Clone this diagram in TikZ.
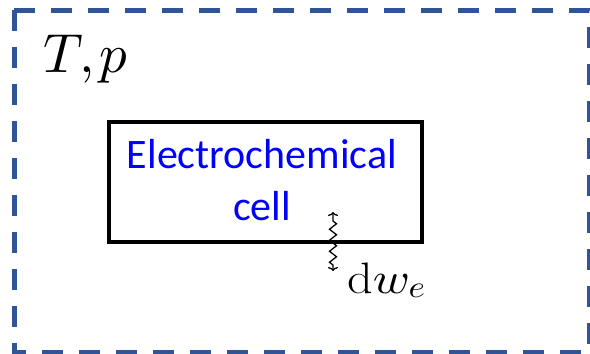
\documentclass[tikz,border=0pt]{standalone}
\usepackage{fontspec}
\DeclareFontFamily{OML}{cmm}{\skewchar\font127 }
\DeclareFontShape{OML}{cmm}{m}{it}{<->cmmi10}{}
\newfontfamily\cellfont{Carlito}
\usetikzlibrary{decorations.pathmorphing,arrows.meta}
\definecolor{frameblue}{HTML}{2F5597}
\definecolor{textblue}{HTML}{0000FF}
\tikzset{
  x=1pt,y=-1pt,
  frame/.style={draw=frameblue,line width=5pt,dash pattern=on 21pt off 16pt},
  cellbox/.style={draw=black,line width=4pt},
  worklink/.style={line width=1.3pt,{To[length=4pt,width=10pt]}-{To[length=4pt,width=10pt]},
    decorate,decoration={zigzag,segment length=11pt,amplitude=3.5pt,pre length=6pt,post length=6pt}}
}
\begin{document}
\begin{tikzpicture}
\useasboundingbox (0,0) rectangle (590,354);
\draw[frame] (14,10) rectangle (589,352);
\node[cellbox,minimum width=313pt,minimum height=120pt,anchor=north west,inner sep=0pt] (cell) at (106.5,120) {};
\node[text=textblue,font=\cellfont\fontsize{42}{52}\selectfont,align=center,anchor=base] (lab1) at (262,168) {Electrochemical};
\node[text=textblue,font=\cellfont\fontsize{42}{52}\selectfont,anchor=base] (lab2) at (262,220) {cell};
\node[anchor=base west,inner sep=0pt,font=\fontsize{55}{60}\selectfont] (tp) at (43,72) {$T,p$};
\coordinate (wtop) at (333,212);
\coordinate (wbot) at (333,271);
\draw[worklink] (wbot) -- (wtop);
\node[anchor=base west,inner sep=0pt,font=\fontsize{44}{50}\selectfont] (dw) at (347,293) {\scalebox{1.14}[1]{$\mathrm{d}w_e$}};
\end{tikzpicture}
\end{document}
